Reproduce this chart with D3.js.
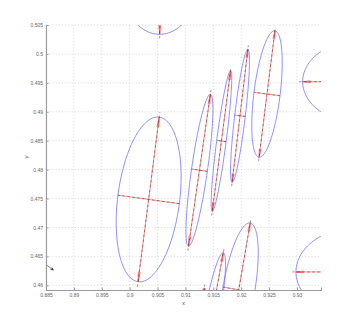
<!DOCTYPE html>
<html>
<head>
<meta charset="utf-8">
<script src="https://cdn.jsdelivr.net/npm/d3@7"></script>
<style>
  body { margin: 0; background: #fff; }
  .tick text { font-family: Arial, "Liberation Sans", sans-serif; }
</style>
</head>
<body>
<div id="chart"></div>
<script>
// ellipse parameters, data units: centre, semi-axes, major axis angle (deg)
var ellipseCx    = [0.90340, 0.91251, 0.91645, 0.91978, 0.92462, 0.90538, 0.94176, 0.94056, 0.91455, 0.91955, 0.91188];
var ellipseCy    = [0.47485, 0.47990, 0.48495, 0.48931, 0.49307, 0.51549, 0.49520, 0.46231, 0.45374, 0.45920, 0.44883];
var ellipseMajor = [0.01436, 0.01328, 0.01226, 0.01158, 0.01103, 0.01210, 0.01075, 0.01075, 0.01211, 0.01176, 0.01080];
var ellipseMinor = [0.00555, 0.00143, 0.00085, 0.00095, 0.00235, 0.00789, 0.00726, 0.00760, 0.00143, 0.00287, 0.00120];
var ellipseAngle = [82.4, 81.5, 82.3, 83.0, 82.6, 90, 0, 0, 79.4, 79.9, 82];

// the small black arrow near the left axis
var arrowStart = [0.88520, 0.46345];
var arrowEnd   = [0.88630, 0.46265];

var xTicks = [0.885, 0.89, 0.895, 0.9, 0.905, 0.91, 0.915, 0.92, 0.925, 0.93];
var yTicks = [0.46, 0.465, 0.47, 0.475, 0.48, 0.485, 0.49, 0.495, 0.5, 0.505];
var xDomain = [0.885, 0.9343];
var yDomain = [0.45919, 0.505];

var margin = {top: 25, right: 33, bottom: 37, left: 46};
const W = 354, H = 327;
const width = W - margin.left - margin.right;
const height = H - margin.top - margin.bottom;

var svg = d3.select("#chart")
    .append("svg")
    .attr("width", W)
    .attr("height", H)
    .append("g")
    .attr("transform", "translate(" + margin.left + "," + margin.top + ")");

var xScale = d3.scaleLinear().domain(xDomain).range([0, width]);
var yScale = d3.scaleLinear().domain(yDomain).range([height, 0]);

svg.append("defs").append("clipPath")
    .attr("id", "clip")
    .append("rect")
    .attr("width", width)
    .attr("height", height);

// dotted grid
svg.append("g")
    .selectAll("line.gx")
    .data(xTicks)
    .enter().append("line")
    .attr("x1", d => xScale(d)).attr("x2", d => xScale(d))
    .attr("y1", 0).attr("y2", height)
    .attr("stroke", "#d2d2d2")
    .attr("stroke-width", 0.9)
    .attr("stroke-dasharray", "1,2.2");

svg.append("g")
    .selectAll("line.gy")
    .data(yTicks)
    .enter().append("line")
    .attr("x1", 0).attr("x2", width)
    .attr("y1", d => yScale(d)).attr("y2", d => yScale(d))
    .attr("stroke", "#d2d2d2")
    .attr("stroke-width", 0.9)
    .attr("stroke-dasharray", "1,2.2");

var plot = svg.append("g").attr("clip-path", "url(#clip)");

const ell = d3.line().x(d => xScale(d[0])).y(d => yScale(d[1]));

function axisEnds(i, which, k) {
    var th = ellipseAngle[i] * Math.PI / 180;
    var r = which === "major" ? ellipseMajor[i] : ellipseMinor[i];
    var ux = which === "major" ? Math.cos(th) : -Math.sin(th);
    var uy = which === "major" ? Math.sin(th) : Math.cos(th);
    return [[ellipseCx[i] - k * r * ux, ellipseCy[i] - k * r * uy],
            [ellipseCx[i] + k * r * ux, ellipseCy[i] + k * r * uy]];
}

function arrowHead(p0, p1, len, half) {
    // p0 -> p1 in pixels, V shaped head at p1
    var dx = p1[0] - p0[0], dy = p1[1] - p0[1];
    var L = Math.sqrt(dx * dx + dy * dy);
    var ux = dx / L, uy = dy / L;
    var bx = p1[0] - ux * len, by = p1[1] - uy * len;
    return "M" + (bx - uy * half) + "," + (by + ux * half) +
           "L" + p1[0] + "," + p1[1] +
           "L" + (bx + uy * half) + "," + (by - ux * half);
}

for (var i = 0; i < ellipseCx.length; i++) {
    var th = ellipseAngle[i] * Math.PI / 180;
    var pts = d3.range(0, 2 * Math.PI + 0.001, Math.PI / 60).map(function(t) {
        return [
            ellipseCx[i] + ellipseMajor[i] * Math.cos(t) * Math.cos(th) - ellipseMinor[i] * Math.sin(t) * Math.sin(th),
            ellipseCy[i] + ellipseMajor[i] * Math.cos(t) * Math.sin(th) + ellipseMinor[i] * Math.sin(t) * Math.cos(th)
        ];
    });

    plot.append("path")
        .datum(pts)
        .attr("fill", "none")
        .attr("stroke", "#7373ff")
        .attr("stroke-width", 0.8)
        .attr("d", ell);

    ["major", "minor"].forEach(function(w) {
        var e = axisEnds(i, w, 1);
        var c = [xScale(ellipseCx[i]), yScale(ellipseCy[i])];
        plot.append("path")
            .datum(e)
            .attr("fill", "none")
            .attr("stroke", "#ff5a5a")
            .attr("stroke-width", 0.7)
            .attr("d", ell);
        if (w === "major") {
            e.forEach(function(p) {
                var pp = [xScale(p[0]), yScale(p[1])];
                var len = Math.hypot(pp[0] - c[0], pp[1] - c[1]);
                plot.append("path")
                    .attr("d", arrowHead(c, pp, Math.min(10, 0.13 * len), 0.9))
                    .attr("fill", "none")
                    .attr("stroke", "#ff3a3a")
                    .attr("stroke-width", 0.7);
            });
        }
        plot.append("path")
            .datum(axisEnds(i, w, w === "major" ? 1.06 : 1))
            .attr("fill", "none")
            .attr("stroke", "#3a2a2a")
            .attr("stroke-opacity", 0.8)
            .attr("stroke-width", 0.6)
            .attr("stroke-dasharray", "2.5,2.5")
            .attr("d", ell);
    });
}

// little black arrow
var a0 = [xScale(arrowStart[0]), yScale(arrowStart[1])];
var a1 = [xScale(arrowEnd[0]), yScale(arrowEnd[1])];
svg.append("line")
    .attr("x1", a0[0]).attr("y1", a0[1])
    .attr("x2", a1[0]).attr("y2", a1[1])
    .attr("stroke", "#333").attr("stroke-width", 0.6);
svg.append("path")
    .attr("d", arrowHead(a0, a1, 2.5, 1.2))
    .attr("fill", "none").attr("stroke", "#222").attr("stroke-width", 0.8);

// axes
var xAxis = svg.append("g")
    .attr("transform", "translate(0," + height + ")")
    .call(d3.axisBottom(xScale).tickValues(xTicks).tickSize(-2.5).tickPadding(3)
        .tickFormat(d => d3.format("")(+d.toFixed(3))));
var yAxis = svg.append("g")
    .call(d3.axisLeft(yScale).tickValues(yTicks).tickSize(-2.5).tickPadding(3)
        .tickFormat(d => d3.format("")(+d.toFixed(3))));

[xAxis, yAxis].forEach(function(g) {
    g.select(".domain").attr("stroke", "#999").attr("stroke-width", 1.1);
    g.selectAll(".tick line").attr("stroke", "#999");
    g.selectAll(".tick text").attr("fill", "#666").style("font-size", "5px");
});

svg.append("text")
    .attr("x", width / 2)
    .attr("y", height + 15)
    .style("text-anchor", "middle")
    .style("font-family", "Arial, sans-serif")
    .style("font-size", "6px")
    .attr("fill", "#555")
    .text("x");

svg.append("text")
    .attr("transform", "rotate(-90)")
    .attr("x", -(yScale(0.4822)))
    .attr("y", -18)
    .style("text-anchor", "middle")
    .style("font-family", "Arial, sans-serif")
    .style("font-size", "6px")
    .attr("fill", "#555")
    .text("y");
</script>
</body>
</html>
